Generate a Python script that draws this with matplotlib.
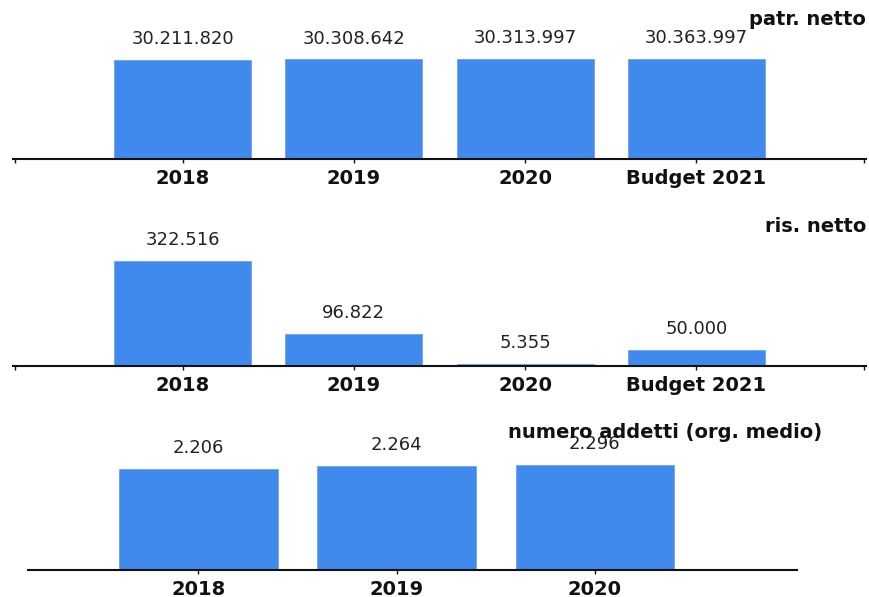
import matplotlib
matplotlib.use("Agg")
import matplotlib.pyplot as plt

# ---- data ----
cats_a = ["2018", "2019", "2020", "Budget 2021"]
patr_netto = [30211820, 30308642, 30313997, 30363997]
ris_netto = [322516, 96822, 5355, 50000]
cats_b = ["2018", "2019", "2020"]
addetti = [2206, 2264, 2296]

titles = ["patr. netto", "ris. netto", "numero addetti (org. medio)"]

BAR = "#418aed"
W, H = 869, 597
fig = plt.figure(figsize=(W / 100, H / 100), dpi=100)
plt.rcParams['font.family'] = ['DejaVu Sans']


def fmt(v):
    return f"{v:,}".replace(",", ".")


def panel(left, right, top, base, cats, vals, xlim, bar_px, title, tx, ty, end_ticks):
    ax = fig.add_axes([left / W, 1 - base / H, (right - left) / W, (base - top) / H])
    x = list(range(len(cats)))
    ax.bar(x, vals, width=0.8, color=BAR, edgecolor="#6aa3f2", linewidth=0.6)
    ax.set_xlim(*xlim)
    ax.set_ylim(0, max(vals) * (base - top) / bar_px)
    for s in ["top", "right", "left"]:
        ax.spines[s].set_visible(False)
    ax.spines["bottom"].set_linewidth(1.5)
    ax.spines["bottom"].set_color("#111111")
    ax.set_yticks([])
    ax.set_xticks(x)
    ax.set_xticklabels(cats, fontsize=14, fontweight="bold", color="#111111")
    ax.tick_params(axis="x", length=3, width=1, pad=4, color="#111111")
    if end_ticks:
        ax.set_xticks([xlim[0] + 0.01, xlim[1] - 0.01], minor=True)
        ax.tick_params(axis="x", which="minor", length=3, width=1, color="#111111")
    for xi, v in zip(x, vals):
        ax.annotate(fmt(v), (xi, v), xytext=(0, 11.5), textcoords="offset points",
                    ha="center", va="baseline", fontsize=13, color="#222222")
    fig.text(tx / W, 1 - ty / H, title, ha="right", va="top",
             fontsize=14, fontweight="bold", color="#111111")
    return ax


panel(13, 866, 0, 159, cats_a, patr_netto, (-0.99, 3.99), 99.7, titles[0], 866, 10, True)
panel(13, 866, 200, 366, cats_a, ris_netto, (-0.99, 3.99), 105.3, titles[1], 866, 217, True)
panel(28, 797, 410, 570, cats_b, addetti, (-0.86, 3.02), 105.0, titles[2], 822, 423, False)

fig.savefig("out.png", dpi=100)
